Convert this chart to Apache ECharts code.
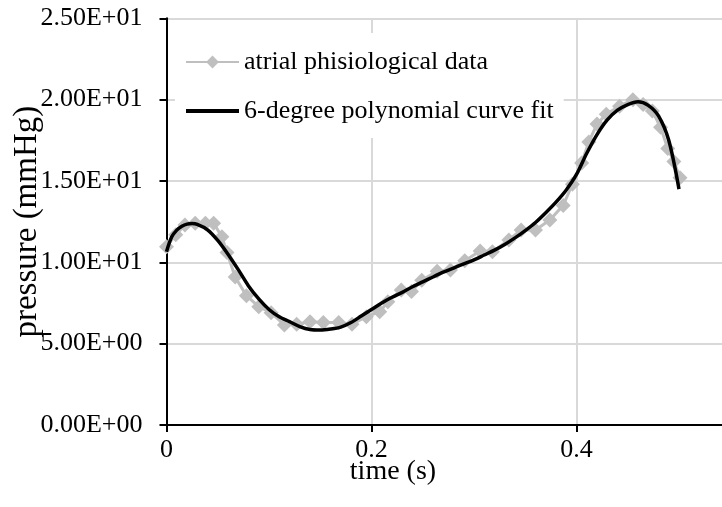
<!DOCTYPE html>
<html><head><meta charset="utf-8">
<script src="https://cdn.jsdelivr.net/npm/echarts@6/dist/echarts.min.js"></script>
<style>html,body{margin:0;padding:0;background:#fff}#c{width:722px;height:507px}</style>
</head><body><div id="c"></div>
<script>
// measured data (time s, pressure mmHg)
const dataTime = [0.000,0.009,0.018,0.028,0.038,0.046,0.054,0.059,0.067,0.078,0.090,0.102,0.115,0.127,0.140,0.153,0.168,0.181,0.195,0.208,0.216,0.229,0.239,0.249,0.264,0.277,0.291,0.306,0.318,0.334,0.346,0.360,0.374,0.387,0.396,0.405,0.412,0.420,0.429,0.442,0.455,0.465,0.474,0.482,0.489,0.495,0.501];
const dataPressure = [10.96,11.70,12.29,12.40,12.40,12.40,11.57,10.60,9.10,7.95,7.27,6.90,6.15,6.20,6.35,6.30,6.30,6.20,6.66,6.96,7.58,8.30,8.20,8.90,9.45,9.53,10.09,10.70,10.65,11.37,11.99,11.99,12.60,13.50,14.80,16.10,17.40,18.50,19.10,19.60,20.00,19.70,19.30,18.30,17.00,16.20,15.20];
// 6-degree polynomial fit curve
const fitTime = [0,0.005,0.01,0.015,0.02,0.025,0.03,0.04,0.05,0.06,0.07,0.08,0.09,0.10,0.11,0.12,0.13,0.14,0.15,0.16,0.17,0.18,0.19,0.20,0.21,0.22,0.23,0.24,0.25,0.26,0.27,0.28,0.29,0.30,0.31,0.32,0.33,0.34,0.35,0.36,0.37,0.38,0.39,0.40,0.41,0.42,0.43,0.44,0.45,0.46,0.47,0.48,0.49,0.50];
const fitPressure = [10.65,11.55,11.98,12.22,12.35,12.38,12.33,12.0,11.35,10.5,9.55,8.55,7.75,7.1,6.65,6.35,6.05,5.87,5.84,5.9,6.02,6.3,6.7,7.1,7.5,7.85,8.15,8.5,8.8,9.1,9.4,9.65,9.9,10.15,10.45,10.75,11.1,11.5,11.95,12.45,13.05,13.7,14.45,15.4,16.7,17.85,18.75,19.35,19.7,19.87,19.65,19.0,17.5,14.5];
const seriesNames = ['atrial phisiological data','6-degree polynomial curve fit'];
const xTitle = 'time (s)';
const yTitle = 'pressure (mmHg)';

const FONT = 'Liberation Serif';
function expFmt(v){
  const s = Number(v).toExponential(2).split('e');
  const e = parseInt(s[1],10);
  const d = Math.abs(e);
  return s[0] + 'E' + (e<0?'-':'+') + (d<10?'0':'') + d;
}
const chart = echarts.init(document.getElementById('c'), null, {renderer:'canvas'});
chart.setOption({
  animation:false,
  backgroundColor:'#fff',
  grid:{left:166.5, top:18.3, right:-59.5, bottom:82, containLabel:false, outerBoundsMode:'none'},
  legend:{
    orient:'vertical', left:175, top:33,
    padding:[14,10,12,10], itemGap:19,
    itemWidth:53, itemHeight:16,
    backgroundColor:'#fff',
    textStyle:{fontFamily:FONT, fontSize:26, color:'#000', lineHeight:30},
    data:[{name:seriesNames[0]}, {name:seriesNames[1], icon:'path://M0,0H53V4H0Z'}]
  },
  xAxis:{
    type:'value', min:0, max:0.6, interval:0.2,
    axisLine:{lineStyle:{color:'#000', width:2}},
    axisTick:{show:true, length:7, lineStyle:{color:'#000', width:2}},
    axisLabel:{fontFamily:FONT, fontSize:26, color:'#000', margin:12, showMaxLabel:false},
    splitLine:{show:true, lineStyle:{color:'#D9D9D9', width:2}}
  },
  yAxis:{
    type:'value', min:0, max:25, interval:5,
    name:yTitle, nameLocation:'middle', nameGap:123, nameRotate:90, nameMoveOverlap:false,
    nameTextStyle:{fontFamily:FONT, fontSize:33, color:'#000'},
    axisLine:{show:true, lineStyle:{color:'#000', width:2}},
    axisTick:{show:true, length:7, lineStyle:{color:'#000', width:2}},
    axisLabel:{fontFamily:FONT, fontSize:26, color:'#000', margin:24, formatter:expFmt},
    splitLine:{show:true, lineStyle:{color:'#D9D9D9', width:2}}
  },
  graphic:[{type:'text', x:393, y:472, style:{text:xTitle, font:'28px "Liberation Serif"', fill:'#000', align:'center', verticalAlign:'middle'}}],
  series:[
    {name:seriesNames[0], type:'line', data:dataTime.map((t,i)=>[t,dataPressure[i]]),
     symbol:'diamond', symbolSize:15, showAllSymbol:true,
     itemStyle:{color:'#BFBFBF'}, lineStyle:{color:'#BFBFBF', width:3}, z:2},
    {name:seriesNames[1], type:'line', data:fitTime.map((t,i)=>[t,fitPressure[i]]),
     symbol:'none', smooth:0.3,
     itemStyle:{color:'#000'}, lineStyle:{color:'#000', width:3.5}, z:3}
  ]
});
</script></body></html>
